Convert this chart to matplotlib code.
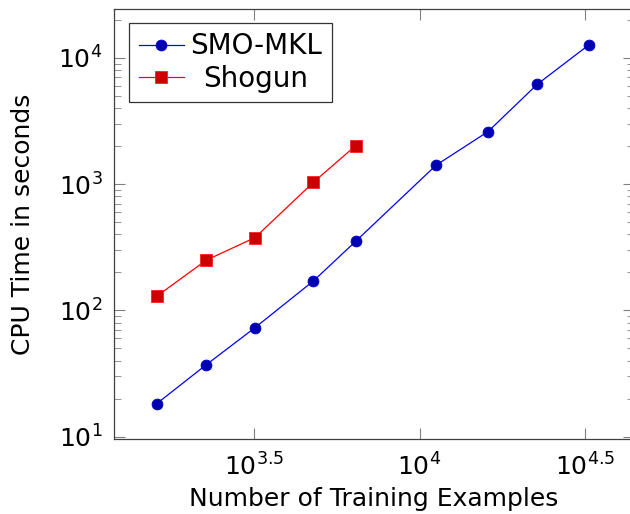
import matplotlib
matplotlib.use("Agg")
import matplotlib.pyplot as plt
from matplotlib.ticker import LogLocator, NullLocator, NullFormatter
import numpy as np

FONT = "DejaVu Sans"
plt.rcParams["font.family"] = [FONT]
plt.rcParams["mathtext.fontset"] = "dejavusans"

# training set sizes (a1a .. a9a) and CPU time in seconds
n_examples = [1605, 2265, 3185, 4781, 6414, 11220, 16100, 22696, 32561]
smo_mkl = [18.2, 37, 73, 171, 352, 1410, 2600, 6170, 12700]
shogun_n = [1605, 2265, 3185, 4781, 6414]
shogun = [129, 249, 377, 1033, 2014]

xtick_vals = [10 ** 3.5, 10 ** 4, 10 ** 4.5]
xtick_labels = [r"$10^{3.5}$", r"$10^{4}$", r"$10^{4.5}$"]

fig = plt.figure(figsize=(6.3, 5.14), dpi=100)
ax = fig.add_axes([0.1802, 0.1453, 0.8261, 0.8372])

ax.plot(n_examples, smo_mkl, color="#0000ff", lw=0.9, marker="o", ms=7.8,
        mfc="#0000b3", mec="#0000cc", mew=0.6, label="SMO-MKL")
ax.plot(shogun_n, shogun, color="#ff0000", lw=0.9, marker="s", ms=8.4,
        mfc="#cc0000", mec="#ff2020", mew=0.6, label="Shogun")

ax.set_xscale("log")
ax.set_yscale("log")
ax.set_xlim(10 ** 3.0755, 10 ** 4.648)
ax.set_ylim(10 ** 0.979, 10 ** 4.386)

ax.set_xticks(xtick_vals, labels=xtick_labels)
ax.xaxis.set_minor_locator(NullLocator())
ax.yaxis.set_major_locator(LogLocator(base=10))
ax.yaxis.set_minor_locator(LogLocator(base=10, subs=np.arange(2, 10)))
ax.yaxis.set_minor_formatter(NullFormatter())

ax.tick_params(which="both", direction="in", top=True, right=True,
               color="#808080", labelsize=18)
ax.tick_params(which="major", length=8, width=0.8, pad=8)
ax.tick_params(axis="x", which="major", pad=10)
ax.tick_params(which="minor", length=5, width=0.6)
for s in ax.spines.values():
    s.set_color("#404040")
    s.set_linewidth(0.9)

ax.set_xlabel("Number of Training Examples", fontsize=18, labelpad=5)
ax.set_ylabel("CPU Time in seconds", fontsize=18, labelpad=17)

leg = ax.legend(loc="upper left", bbox_to_anchor=(0.03, 0.968), fontsize=20,
                frameon=True, fancybox=False, edgecolor="black",
                handlelength=1.62, handletextpad=0.22, borderpad=0.35,
                labelspacing=0.15, borderaxespad=0)
leg.get_frame().set_linewidth(0.9)

# centre the shorter entry text under the longer one
renderer = fig.canvas.get_renderer()
texts = leg.get_texts()
widths = [t.get_window_extent(renderer).width for t in texts]
wmax = max(widths)
for t, w in zip(texts, widths):
    t.set_position(((wmax - w) / 2, 0))

fig.savefig("out.png", dpi=100)
